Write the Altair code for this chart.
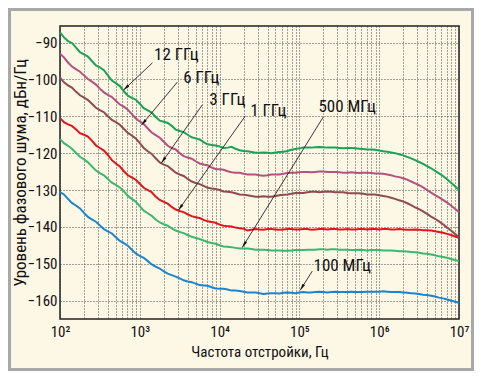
import math
import altair as alt
import pandas as pd

FONT = "Liberation Sans Narrow, Roboto Condensed, DejaVu Sans Condensed, Arial Narrow, sans-serif"

freq = [100, 126, 158, 200, 251, 316, 398, 501, 631, 794,
        1000, 1260, 1580, 2000, 2510, 3160, 3980, 5010, 6310, 7940,
        10000, 12600, 15800, 20000, 25100, 31600, 39800, 50100, 63100, 79400,
        100000, 126000, 158000, 200000, 251000, 316000, 398000, 501000, 631000, 794000,
        1000000, 1260000, 1580000, 2000000, 2510000, 3160000, 3980000, 5010000, 6310000, 7940000,
        10000000]
freq_mid = [112, 141, 178, 224, 282, 355, 447, 562, 708, 891,
            1120, 1410, 1780, 2240, 2820, 3550, 4470, 5620, 7080, 8910,
            11200, 14100, 17800, 22400, 28200, 35500, 44700, 56200, 70800, 89100,
            112000, 141000, 178000, 224000, 282000, 355000, 447000, 562000, 708000, 891000,
            1120000, 1410000, 1780000, 2240000, 2820000, 3550000, 4470000, 5620000, 7080000, 8910000]

pn_12ghz = [-87.2, -89.6, -91.3, -93.2, -95.0, -96.7, -98.9, -101.0, -103.2, -105.0,
            -106.6, -108.4, -110.2, -111.5, -112.6, -114.0, -115.0, -116.0, -117.0, -117.8,
            -118.2, -118.5, -118.8, -119.4, -119.7, -119.9, -119.9, -119.8, -119.6, -119.1,
            -118.7, -118.5, -118.4, -118.4, -118.5, -118.6, -118.6, -118.7, -118.9, -119.0,
            -119.3, -119.6, -120.0, -120.6, -121.4, -122.4, -123.5, -124.8, -126.2, -128.0,
            -130.0]
pn_12ghz_mid = [-88.6, -90.1, -92.6, -93.8, -96.2, -97.5, -100.3, -101.8, -104.4, -105.5,
                -107.8, -109.0, -111.2, -111.8, -113.6, -114.3, -115.7, -116.3, -117.6, -117.9,
                -118.6, -118.3, -119.2, -119.5, -119.9, -119.8, -120.0, -119.7, -119.4, -118.9,
                -118.5, -118.5, -118.3, -118.5, -118.5, -118.7, -118.6, -118.8, -119.0, -119.1,
                -119.5, -119.8, -120.3, -121.0, -121.9, -122.9, -124.1, -125.5, -127.1, -129.0]
pn_6ghz = [-93.0, -95.4, -97.2, -98.9, -100.6, -102.5, -104.2, -105.8, -107.4, -109.4,
           -111.4, -113.3, -115.1, -116.9, -118.6, -120.0, -121.2, -122.2, -123.1, -123.9,
           -124.4, -124.9, -125.3, -125.6, -125.8, -126.0, -126.0, -125.8, -125.6, -125.3,
           -125.2, -125.1, -125.1, -125.0, -125.1, -125.2, -125.3, -125.3, -125.3, -125.4,
           -125.5, -125.8, -126.3, -126.8, -127.7, -128.7, -130.0, -131.4, -132.7, -134.2,
           -136.0]
pn_6ghz_mid = [-94.0, -96.5, -97.9, -99.9, -101.4, -103.5, -104.8, -106.8, -108.2, -110.6,
               -112.1, -114.4, -115.8, -118.0, -119.0, -120.8, -121.5, -122.8, -123.3, -124.3,
               -124.5, -125.2, -125.3, -125.8, -125.8, -126.1, -125.8, -125.8, -125.4, -125.3,
               -125.1, -125.2, -125.0, -125.1, -125.1, -125.3, -125.2, -125.4, -125.3, -125.5,
               -125.6, -126.0, -126.5, -127.2, -128.2, -129.3, -130.7, -132.0, -133.4, -135.1]
pn_3ghz = [-99.5, -101.6, -103.3, -104.9, -106.6, -108.3, -110.0, -111.6, -113.4, -115.2,
           -117.3, -119.5, -121.4, -123.1, -124.4, -125.8, -127.0, -128.1, -128.9, -129.6,
           -130.0, -130.5, -130.9, -131.3, -131.6, -131.8, -131.8, -131.6, -131.3, -131.0,
           -130.8, -130.6, -130.5, -130.5, -130.5, -130.6, -130.8, -130.9, -131.0, -131.2,
           -131.4, -131.8, -132.4, -133.1, -134.1, -135.2, -136.5, -137.8, -139.3, -141.0,
           -142.8]
pn_3ghz_mid = [-100.8, -102.2, -104.3, -105.6, -107.7, -108.9, -111.0, -112.3, -114.5, -116.0,
               -118.6, -120.2, -122.5, -123.5, -125.3, -126.2, -127.7, -128.4, -129.4, -129.7,
               -130.4, -130.6, -131.2, -131.4, -131.8, -131.7, -131.8, -131.4, -131.2, -130.8,
               -130.8, -130.5, -130.6, -130.4, -130.6, -130.6, -130.9, -130.9, -131.2, -131.2,
               -131.6, -132.1, -132.8, -133.6, -134.7, -135.8, -137.2, -138.5, -140.2, -141.9]
pn_1ghz = [-110.5, -112.2, -113.5, -115.0, -116.6, -118.6, -120.5, -122.8, -124.9, -126.6,
           -128.3, -130.0, -131.8, -133.2, -134.6, -135.7, -136.6, -137.4, -138.1, -138.7,
           -139.4, -139.8, -140.2, -140.5, -140.8, -140.7, -140.6, -140.7, -140.7, -140.6,
           -140.7, -140.6, -140.7, -140.6, -140.6, -140.7, -140.6, -140.7, -140.6, -140.6,
           -140.7, -140.6, -140.7, -140.7, -140.8, -140.8, -140.9, -141.2, -141.6, -142.2,
           -143.0]
pn_1ghz_mid = [-111.6, -112.6, -114.6, -115.5, -117.9, -119.3, -121.9, -123.6, -126.0, -127.2,
               -129.4, -130.6, -132.7, -133.7, -135.3, -136.0, -137.1, -137.6, -138.5, -138.9,
               -139.7, -139.9, -140.4, -141.0, -140.6, -140.8, -140.6, -140.8, -140.6, -140.7,
               -140.6, -140.8, -140.6, -140.7, -140.6, -140.7, -140.7, -140.6, -140.7, -140.6,
               -140.6, -140.7, -140.6, -140.8, -140.7, -140.9, -141.0, -141.4, -141.9, -142.6]
pn_500mhz = [-116.2, -118.0, -119.9, -121.7, -123.6, -125.4, -127.0, -128.6, -130.3, -132.4,
             -134.4, -136.3, -138.0, -139.3, -140.4, -141.4, -142.2, -143.0, -143.7, -144.4,
             -145.0, -145.4, -145.7, -145.9, -146.0, -146.2, -146.3, -146.4, -146.5, -146.4,
             -146.3, -146.2, -146.2, -146.1, -146.1, -146.2, -146.2, -146.3, -146.3, -146.3,
             -146.3, -146.4, -146.5, -146.6, -146.8, -147.0, -147.3, -147.7, -148.2, -148.7,
             -149.3]
pn_500mhz_mid = [-117.3, -118.8, -121.0, -122.5, -124.7, -126.0, -128.0, -129.3, -131.6, -133.2,
                 -135.6, -137.0, -138.8, -139.7, -141.0, -141.7, -142.7, -143.3, -144.1, -144.6,
                 -145.3, -145.5, -145.9, -145.9, -146.2, -146.2, -146.4, -146.4, -146.5, -146.3,
                 -146.3, -146.2, -146.1, -146.2, -146.1, -146.2, -146.3, -146.2, -146.4, -146.3,
                 -146.4, -146.4, -146.6, -146.7, -146.9, -147.2, -147.5, -148.0, -148.4, -149.0]
pn_100mhz = [-130.6, -132.4, -134.2, -136.2, -138.0, -139.6, -141.2, -142.8, -144.4, -146.2,
             -147.9, -149.3, -150.8, -152.1, -153.1, -154.0, -154.8, -155.4, -155.9, -156.4,
             -156.8, -157.0, -157.3, -157.6, -157.8, -158.0, -158.1, -158.0, -157.9, -157.9,
             -157.8, -157.8, -157.7, -157.7, -157.7, -157.7, -157.7, -157.7, -157.7, -157.6,
             -157.6, -157.6, -157.7, -157.8, -158.0, -158.2, -158.5, -158.9, -159.4, -160.0,
             -160.6]
pn_100mhz_mid = [-131.2, -133.5, -135.0, -137.3, -138.6, -140.6, -141.8, -143.8, -145.1, -147.2,
                 -148.4, -150.2, -151.3, -152.7, -153.5, -154.5, -155.0, -155.8, -156.0, -156.7,
                 -156.8, -157.3, -157.4, -157.8, -157.8, -158.2, -158.0, -158.1, -157.8, -158.0,
                 -157.7, -157.8, -157.6, -157.8, -157.6, -157.7, -157.6, -157.7, -157.6, -157.6,
                 -157.5, -157.7, -157.7, -157.9, -158.1, -158.4, -158.7, -159.2, -159.7, -160.3]

series_names = ["12 GHz", "6 GHz", "3 GHz", "1 GHz", "500 MHz", "100 MHz"]
series_colors = ["#1ba257", "#b4527e", "#8e4b51", "#e0161e", "#3fb56f", "#1c84cf"]
series_values = [pn_12ghz, pn_6ghz, pn_3ghz, pn_1ghz, pn_500mhz, pn_100mhz]
series_mid = [pn_12ghz_mid, pn_6ghz_mid, pn_3ghz_mid, pn_1ghz_mid, pn_500mhz_mid, pn_100mhz_mid]

ann_text = ["12 ГГц", "6 ГГц", "3 ГГц", "1 ГГц", "500 МГц", "100 МГц"]
ann_freq = [2870, 5900, 12500, 40700, 396000, 344000]
ann_db = [-93.3, -99.6, -105.6, -108.6, -107.5, -150.7]
arrow_from_freq = [1440, 2960, 6070, 21000, 199000, 145000]
arrow_from_db = [-95.5, -100.7, -106.9, -109.9, -110.2, -152.0]
arrow_to_freq = [624, 1047, 1862, 3041, 19230, 102300]
arrow_to_db = [-102.9, -112.4, -122.7, -135.5, -145.6, -157.2]

y_ticks = [-160, -150, -140, -130, -120, -110, -100, -90]
x_grid = [m * 10 ** e for e in range(2, 7) for m in range(1, 10)] + [10 ** 7]

W, H = 399, 293
X_DOM = [100, 10000000]
Y_DOM = [-165, -85.5]

rows = []
for name, vals, mids in zip(series_names, series_values, series_mid):
    for f, v in zip(freq, vals):
        rows.append({"f": f, "pn": v, "series": name})
    for f, v in zip(freq_mid, mids):
        rows.append({"f": f, "pn": v, "series": name})
df = pd.DataFrame(rows).sort_values(["series", "f"])


def to_px(f, db):
    px = (math.log10(f) - 2) / 5 * W
    py = (Y_DOM[1] - db) / (Y_DOM[1] - Y_DOM[0]) * H
    return px, py


arrows = []
for i in range(len(ann_text)):
    x0, y0 = to_px(arrow_from_freq[i], arrow_from_db[i])
    x1, y1 = to_px(arrow_to_freq[i], arrow_to_db[i])
    ang = math.degrees(math.atan2(x1 - x0, -(y1 - y0))) % 360
    arrows.append({"f0": arrow_from_freq[i], "d0": arrow_from_db[i],
                   "f1": arrow_to_freq[i], "d1": arrow_to_db[i], "ang": ang,
                   "txt": ann_text[i], "tf": ann_freq[i], "td": ann_db[i]})
adf = pd.DataFrame(arrows)

xscale = alt.Scale(type="log", domain=X_DOM, nice=False)
yscale = alt.Scale(domain=Y_DOM, nice=False, zero=False)

sup = "['⁰','¹','²','³','⁴','⁵','⁶','⁷','⁸']"
x_axis = alt.Axis(values=x_grid, grid=True, ticks=False, domain=False,
                  labelExpr=("abs(log(datum.value)/LN10 - round(log(datum.value)/LN10)) < 0.001 ? "
                             "'10' + " + sup + "[round(log(datum.value)/LN10)] : ''"),
                  labelFontSize=15, labelPadding=5, labelFont=FONT, labelColor="#111",
                  labelOverlap=False, labelFlush=False,
                  title="Частота отстройки, Гц", titleFont=FONT, titleFontSize=15,
                  titleFontWeight="normal", titleColor="#111", titleY=32,
                  titleBaseline="middle")
y_axis = alt.Axis(values=y_ticks, grid=True, ticks=False, domain=False,
                  labelExpr="replace(datum.label, '-', '−')",
                  labelFontSize=15, labelPadding=3, labelFont=FONT, labelColor="#111",
                  title="Уровень фазового шума, дБн/Гц", titleFont=FONT, titleFontSize=17,
                  titleFontWeight="normal", titleColor="#111",
                  titleX=-40, titleY=H / 2, titleAngle=270, titleAlign="center",
                  titleBaseline="middle")

lines = alt.Chart(df).mark_line(strokeWidth=2).encode(
    x=alt.X("f:Q", scale=xscale, axis=x_axis),
    y=alt.Y("pn:Q", scale=yscale, axis=y_axis),
    color=alt.Color("series:N", scale=alt.Scale(domain=series_names, range=series_colors), legend=None),
    detail="series:N",
    order="f:Q",
)

arrow_lines = alt.Chart(adf).mark_rule(color="#222", strokeWidth=0.9).encode(
    x="f0:Q", y="d0:Q", x2="f1:Q", y2="d1:Q")

heads = alt.Chart(adf).mark_point(
    shape="M0,0 L0.35,1.6 L-0.35,1.6 Z", filled=True, color="#111", size=70, opacity=1
).encode(x="f1:Q", y="d1:Q", angle=alt.Angle("ang:Q", scale=None))

labels = alt.Chart(adf).mark_text(font=FONT, fontSize=17, color="#111",
                                  align="center", baseline="middle").encode(
    x="tf:Q", y="td:Q", text="txt:N")

frame = alt.Chart(adf).mark_rect(fillOpacity=0, stroke="#a8a8a8", strokeWidth=3).encode(
    x=alt.value(-50.5), x2=alt.value(W + 13.5), y=alt.value(-16.5), y2=alt.value(H + 50.5))

chart = alt.layer(lines, arrow_lines, heads, labels, frame).properties(
    width=W, height=H,
    background="#fdf7e6",
    padding={"left": 52, "top": 18, "right": 15, "bottom": 52},
    autosize=alt.AutoSizeParams(type="none"),
).configure_view(stroke="#222", strokeWidth=1.5, fill="#fdf7e6").configure_axis(
    gridColor="#333", gridDash=[1, 2], gridWidth=1, gridOpacity=0.9
)

chart.save("out.html", embed_options={"renderer": "svg", "actions": False})
